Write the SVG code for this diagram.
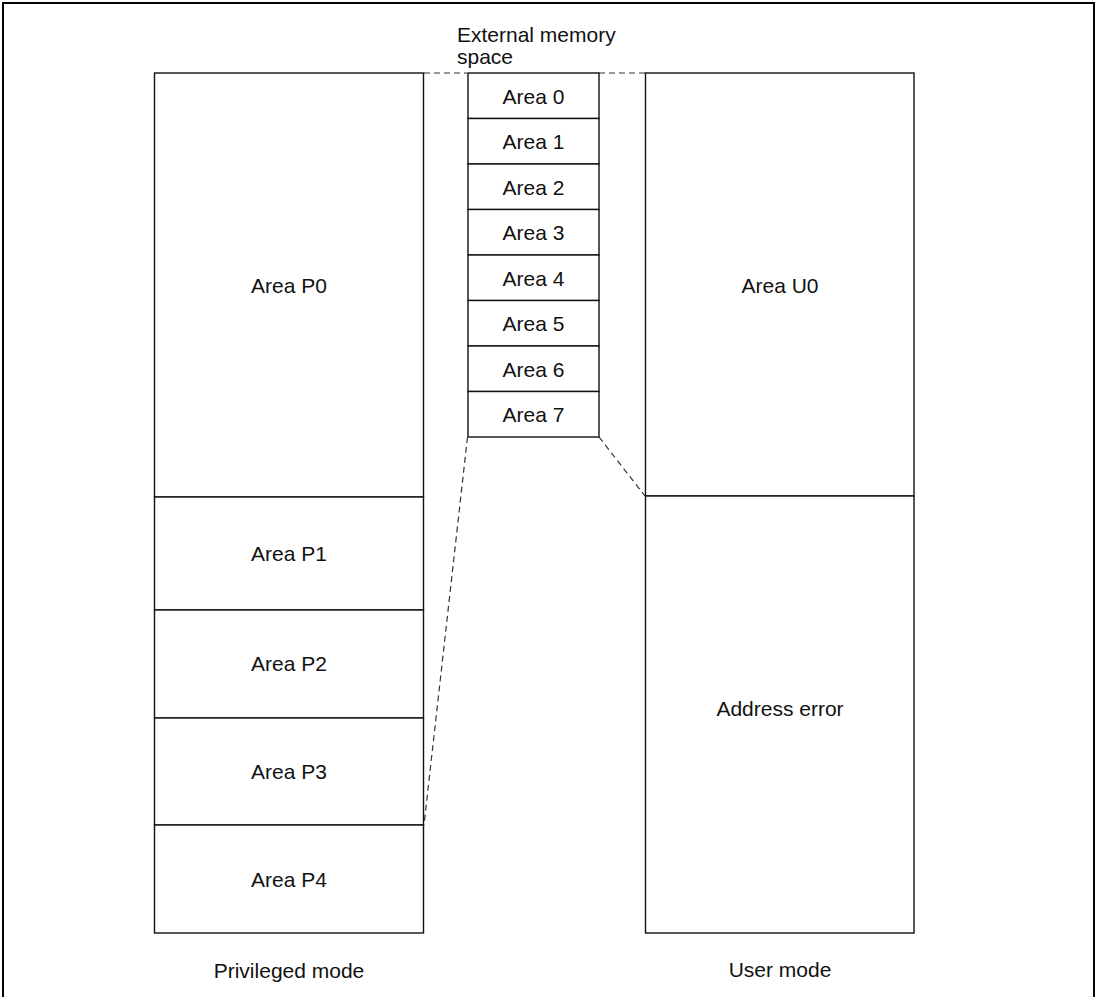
<svg xmlns="http://www.w3.org/2000/svg" width="1100" height="997" viewBox="0 0 1100 997">
<style>
.box{fill:#fff;stroke:#111;stroke-width:1.4}
.div{stroke:#222;stroke-width:1.4;fill:none}
.dash{stroke:#333;stroke-width:1.2;stroke-dasharray:6,4;fill:none}
text{font-family:"Liberation Sans",Arial,sans-serif;font-size:21px;fill:#111;text-anchor:middle}
.lt{text-anchor:start}
</style>
<rect x="0" y="0" width="1100" height="997" fill="#fff"/>
<rect id="frame" x="3" y="3" width="1091" height="1004" fill="none" stroke="#000" stroke-width="2"/>
<g id="connectors">
<line class="dash" x1="424" y1="73" x2="467" y2="73"/>
<line class="dash" x1="599" y1="73" x2="645" y2="73"/>
<line class="dash" x1="467.5" y1="437" x2="424" y2="825"/>
<line class="dash" x1="599" y1="437" x2="645" y2="496"/>
</g>
<g id="privileged">
<g id="P0"><rect class="box" x="154.5" y="73" width="269" height="424"/><text x="289" y="292.5">Area P0</text></g>
<g id="P1"><rect class="box" x="154.5" y="497" width="269" height="113"/><text x="289" y="561">Area P1</text></g>
<g id="P2"><rect class="box" x="154.5" y="610" width="269" height="108"/><text x="289" y="671">Area P2</text></g>
<g id="P3"><rect class="box" x="154.5" y="718" width="269" height="107"/><text x="289" y="779">Area P3</text></g>
<g id="P4"><rect class="box" x="154.5" y="825" width="269" height="108"/><text x="289" y="887">Area P4</text></g>
<text id="privileged-label" x="289" y="978">Privileged mode</text>
</g>
<g id="external">
<text class="lt" x="457" y="41.5">External memory</text>
<text class="lt" x="457" y="63.5">space</text>
<g id="A0"><rect class="box" x="468" y="73" width="131" height="45.5"/><text x="533.5" y="103.5">Area 0</text></g>
<g id="A1"><rect class="box" x="468" y="118.5" width="131" height="45.5"/><text x="533.5" y="149">Area 1</text></g>
<g id="A2"><rect class="box" x="468" y="164" width="131" height="45.5"/><text x="533.5" y="194.5">Area 2</text></g>
<g id="A3"><rect class="box" x="468" y="209.5" width="131" height="45.5"/><text x="533.5" y="240">Area 3</text></g>
<g id="A4"><rect class="box" x="468" y="255" width="131" height="45.5"/><text x="533.5" y="285.5">Area 4</text></g>
<g id="A5"><rect class="box" x="468" y="300.5" width="131" height="45.5"/><text x="533.5" y="331">Area 5</text></g>
<g id="A6"><rect class="box" x="468" y="346" width="131" height="45.5"/><text x="533.5" y="376.5">Area 6</text></g>
<g id="A7"><rect class="box" x="468" y="391.5" width="131" height="45.5"/><text x="533.5" y="422">Area 7</text></g>
</g>
<g id="user">
<g id="U0"><rect class="box" x="645.5" y="73" width="268.5" height="423"/><text x="780" y="292.5">Area U0</text></g>
<g id="AE"><rect class="box" x="645.5" y="496" width="268.5" height="437"/><text x="780" y="716">Address error</text></g>
<text id="user-label" x="780" y="977">User mode</text>
</g>
</svg>
